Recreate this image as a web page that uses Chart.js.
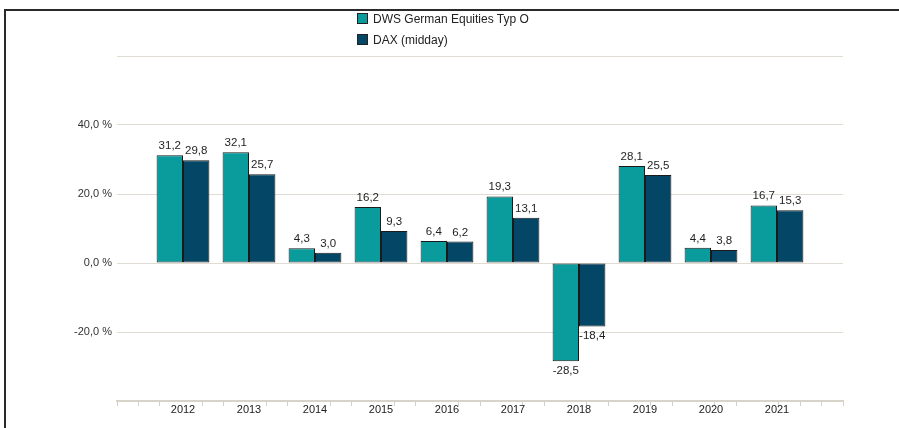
<!DOCTYPE html>
<html>
<head>
<meta charset="utf-8">
<script src="https://cdn.jsdelivr.net/npm/chart.js@4/dist/chart.umd.min.js"></script>
<style>
    html, body { margin: 0; padding: 0; background: #fff; }
    #wrap { position: relative; width: 899px; height: 428px; overflow: hidden; }
    #frame { position: absolute; left: 4px; top: 9px; right: -5px; bottom: -5px; border-left: 2px solid #2a2a2a; border-top: 2px solid #2a2a2a; }
    #legend { position: absolute; left: 357px; top: 12px; font-family: 'Liberation Sans', Arial, sans-serif; font-size: 12px; color: #222; }
    #legend div { height: 21px; line-height: 14px; white-space: nowrap; }
    #legend span.box { display: inline-block; width: 9px; height: 9px; border: 1px solid #222; margin-right: 5px; vertical-align: -1px; }
    canvas { position: absolute; left: 0; top: 0; }
</style>
</head>
<body>
<div id="wrap">
    <canvas id="perfChart" width="899" height="428"></canvas>
    <div id="frame"></div>
    <div id="legend"></div>
</div>
<script>
// Values
const years = ['2012', '2013', '2014', '2015', '2016', '2017', '2018', '2019', '2020', '2021'];
const dwsValues = [31.2, 32.1, 4.3, 16.2, 6.4, 19.3, -28.5, 28.1, 4.4, 16.7];
const daxValues = [29.8, 25.7, 3.0, 9.3, 6.2, 13.1, -18.4, 25.5, 3.8, 15.3];
const seriesNames = ['DWS German Equities Typ O', 'DAX (midday)'];
const yTicks = [-20, 0, 20, 40];

const tealColor = '#0a9c9d';
const navyColor = '#034666';

// empty slot before and after the years, so the axis runs wider than the bars
const labels = [''].concat(years, ['']);
const pad = (arr) => [null].concat(arr, [null]);

const fmt = (v) => v.toFixed(1).replace('.', ',');

// draws the value above / below every bar
const valueLabels = {
    id: 'valueLabels',
    afterDatasetsDraw(chart) {
        const ctx = chart.ctx;
        ctx.save();
        ctx.font = "11.5px 'Liberation Sans', Arial, sans-serif";
        ctx.fillStyle = '#1e1e1e';
        ctx.textAlign = 'center';
        ctx.textBaseline = 'alphabetic';
        chart.data.datasets.forEach((ds, i) => {
            chart.getDatasetMeta(i).data.forEach((bar, j) => {
                const v = ds.data[j];
                if (v === null || v === undefined) return;
                if (v >= 0) {
                    ctx.fillText(fmt(v), bar.x, bar.y - 6);
                } else {
                    ctx.fillText(fmt(v), bar.x, bar.y + 13);
                }
            });
        });
        ctx.restore();
    }
};

const chart = new Chart(document.getElementById('perfChart'), {
    type: 'bar',
    data: {
        labels: labels,
        datasets: [
            {
                label: seriesNames[0],
                data: pad(dwsValues),
                xAxisID: 'x',
                yAxisID: 'y',
                backgroundColor: tealColor,
                borderColor: '#1a1a1a',
                borderWidth: 1,
                borderSkipped: false
            },
            {
                label: seriesNames[1],
                data: pad(daxValues),
                xAxisID: 'x',
                yAxisID: 'y',
                backgroundColor: navyColor,
                borderColor: '#1a1a1a',
                borderWidth: 1,
                borderSkipped: false
            }
        ]
    },
    options: {
        responsive: false,
        devicePixelRatio: 1,
        animation: false,
        layout: {
            padding: { top: 56, left: 5, right: 56, bottom: 0 }
        },
        datasets: {
            bar: { categoryPercentage: 0.8, barPercentage: 1.0 }
        },
        plugins: {
            legend: { display: false },
            tooltip: { enabled: false }
        },
        scales: {
            x: {
                type: 'category',
                position: 'bottom',
                weight: 2,
                offset: false,
                grid: { display: false, drawTicks: false },
                border: { display: false },
                ticks: {
                    padding: 0,
                    autoSkip: false,
                    maxRotation: 0,
                    color: '#222',
                    font: { family: "'Liberation Sans', Arial, sans-serif", size: 11 }
                },
                afterFit: (scale) => { scale.height = 25; }
            },
            xMinor: {
                type: 'linear',
                position: 'bottom',
                weight: 1,
                min: 0,
                max: 33,
                ticks: { display: false, stepSize: 1 },
                grid: {
                    drawOnChartArea: false,
                    tickLength: 5,
                    tickWidth: 1,
                    color: (c) => (c.index % 3 === 0 && c.index > 0 && c.index < 33) ? 'rgba(0,0,0,0)' : '#d6d1c6'
                },
                border: { display: true, color: '#d8d3c8', width: 2 },
                afterFit: (scale) => { scale.height = 2; }
            },
            y: {
                min: -40,
                max: 60,
                ticks: {
                    stepSize: 20,
                    padding: 5,
                    color: '#333',
                    font: { family: "'Liberation Sans', Arial, sans-serif", size: 11 },
                    callback: (v) => yTicks.includes(v) ? fmt(v) + ' %' : ''
                },
                grid: {
                    drawTicks: false,
                    color: (c) => (c.tick && c.tick.value === -40) ? 'rgba(0,0,0,0)' : '#e0dcd3'
                },
                border: { display: false },
                afterFit: (scale) => { scale.width = 112; }
            }
        }
    },
    plugins: [valueLabels]
});

// legend stacked in one column, built from the datasets
const legendEl = document.getElementById('legend');
chart.data.datasets.forEach((ds) => {
    const row = document.createElement('div');
    const box = document.createElement('span');
    box.className = 'box';
    box.style.background = ds.backgroundColor;
    row.appendChild(box);
    row.appendChild(document.createTextNode(ds.label));
    legendEl.appendChild(row);
});
</script>
</body>
</html>
